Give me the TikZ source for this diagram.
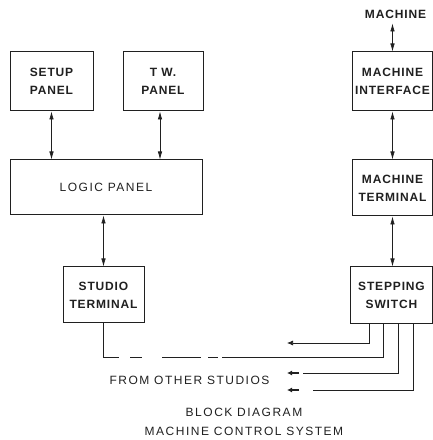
\documentclass[tikz,border=0pt]{standalone}
\usepackage{fontspec}
\setmainfont{Liberation Sans}
\newfontfamily\boxfont[LetterSpace=7]{Liberation Sans}
\newfontfamily\capfont[LetterSpace=12.5]{Liberation Sans}
\usetikzlibrary{arrows.meta,positioning}
\definecolor{ink}{HTML}{202020}

\begin{document}
\begin{tikzpicture}[x=1pt,y=1pt,color=ink,
  blk/.style={draw=ink,line width=1pt,align=center,inner sep=2pt,
    font={\boxfont\bfseries\fontsize{12}{18}\selectfont}},
  lbl/.style={inner sep=1pt,font={\capfont\fontsize{12}{14}\selectfont}},
  lnk/.style={ink,line width=0.7pt},
  bi/.style={lnk,{Latex[length=8pt,width=4.5pt]}-{Latex[length=8pt,width=4.5pt]}},
  stub/.style={ink,line width=1.6pt,-{Latex[length=5pt,width=5pt]}}]
  \useasboundingbox (0,0) rectangle (433,440);
  % studio side
  \node[blk,minimum width=83pt,minimum height=59pt] (setup) at (51.5,358.5) {SETUP\\PANEL};
  \node[blk,minimum width=80pt,minimum height=59pt] (tw) at (163,358.5) {T W.\\PANEL};
  \node[blk,minimum width=192pt,minimum height=55pt,font={\capfont\fontsize{12}{14}\selectfont}] (logic) at (106,252.5) {LOGIC PANEL};
  \node[blk,minimum width=81pt,minimum height=56pt] (studio) at (103.5,145) {STUDIO\\TERMINAL};
  % machine side
  \node[font={\boxfont\bfseries\fontsize{12}{14}\selectfont},inner sep=1pt] (mach) at (395.5,426) {MACHINE};
  \node[blk,minimum width=80pt,minimum height=59pt] (mint) at (392.5,358.5) {MACHINE\\INTERFACE};
  \node[blk,minimum width=80pt,minimum height=56pt] (mterm) at (392.5,252) {MACHINE\\TERMINAL};
  \node[blk,minimum width=82pt,minimum height=57pt] (step) at (391.5,144.5) {STEPPING\\SWITCH};
  % links
  \draw[bi] (setup.south) -- (setup.south |- logic.north);
  \draw[bi] ([xshift=-3pt]tw.south) -- ([xshift=-3pt]tw.south |- logic.north);
  \draw[bi] (studio.north) -- (studio.north |- logic.south);
  \draw[bi] (mint.north) -- ([yshift=-4pt]mint.north |- mach.south);
  \draw[bi] (mint.south) -- (mterm.north);
  \draw[bi] (mterm.south) -- (mterm.south |- step.north);
  % other studios
  \coordinate (brk) at (222,83);
  \coordinate (o1) at (287,97);
  \coordinate (o3) at (303,67);  \coordinate (a3) at (299,67); \coordinate (t3) at (287,67);
  \coordinate (o4) at (313,50);  \coordinate (a4) at (299,50); \coordinate (t4) at (287,50);
  \draw[lnk,dash pattern=on 49pt off 11pt on 12pt off 20pt on 39pt off 7pt on 10pt off 5pt] (studio.south) |- (brk);
  \draw[lnk] (brk) -| ([xshift=33pt]step.south west);
  \draw[lnk,-{Latex[length=6pt,width=5pt]}] ([xshift=19pt]step.south west) |- (o1);
  \draw[lnk] ([xshift=48pt]step.south west) |- (o3);
  \draw[lnk] ([xshift=63pt]step.south west) |- (o4);
  \draw[stub] (a3) -- (t3);
  \draw[stub] (a4) -- (t4);
  % captions
  \node[lbl] (from) at (189.5,60) {FROM OTHER STUDIOS};
  \node[lbl] (title1) at (244,28) {BLOCK DIAGRAM};
  \node[lbl] (title2) at (244,9) {MACHINE CONTROL SYSTEM};
\end{tikzpicture}
\end{document}
